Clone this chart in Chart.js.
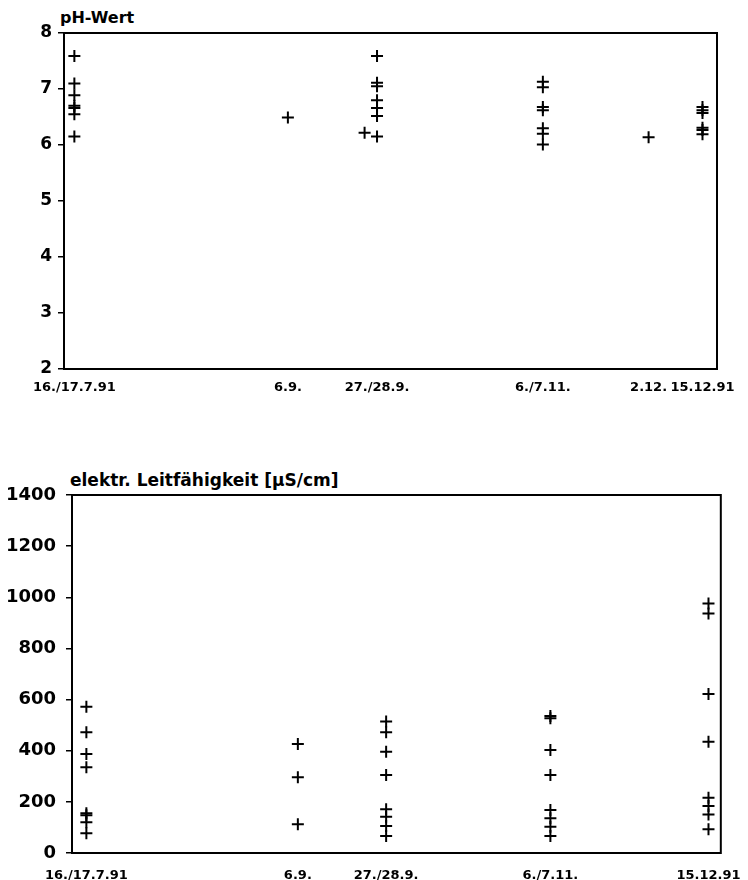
<!DOCTYPE html>
<html>
<head>
<meta charset="utf-8">
<script src="https://cdn.jsdelivr.net/npm/chart.js@4/dist/chart.umd.min.js"></script>
<style>
    body { margin: 0; background: #fff; }
    #wrap { position: relative; width: 748px; height: 880px; }
    #wrap canvas { position: absolute; left: 0; }
    .title { position: absolute; font-family: "DejaVu Sans", sans-serif; font-weight: bold; color: #000; white-space: nowrap; }
</style>
</head>
<body>
<div id="wrap">
    <div class="title" style="left:60px; top:10px; font-size:16px; line-height:16px;">pH-Wert</div>
    <canvas id="phChart" width="748" height="395" style="top:0;"></canvas>
    <div class="title" style="left:70px; top:472px; font-size:17px; line-height:17px;">elektr. Leitfähigkeit [µS/cm]</div>
    <canvas id="ecChart" width="748" height="420" style="top:460px;"></canvas>
</div>
<script>
// Sampling dates as day of year 1991
const dayJul16 = 197.5;   // 16./17.7.91
const daySep6 = 249;      // 6.9.
const daySep27 = 270.5;   // 27./28.9.
const daySep27b = 267.5;  // single value drawn left of the 27./28.9. column
const dayNov6 = 310.5;    // 6./7.11.
const dayDec2 = 336;      // 2.12.
const dayDec15 = 349;     // 15.12.91

const phTickDays = [dayJul16, daySep6, daySep27, dayNov6, dayDec2, dayDec15];
const phTickLabels = ['16./17.7.91', '6.9.', '27./28.9.', '6./7.11.', '2.12.', '15.12.91'];
const ecTickDays = [dayJul16, daySep6, daySep27, dayNov6, dayDec15];
const ecTickLabels = ['16./17.7.91', '6.9.', '27./28.9.', '6./7.11.', '15.12.91'];

// pH values
const phJul16 = [7.59, 7.10, 6.89, 6.70, 6.66, 6.55, 6.15];
const phSep6 = [6.49];
const phSep27 = [7.59, 7.11, 7.05, 6.80, 6.66, 6.52, 6.15];
const phSep27b = [6.22];
const phNov6 = [7.13, 7.03, 6.68, 6.62, 6.30, 6.20, 6.01];
const phDec2 = [6.14];
const phDec15 = [6.68, 6.62, 6.57, 6.31, 6.27, 6.19];

// electrical conductivity [µS/cm]
const ecJul16 = [572, 472, 387, 335, 155, 148, 120, 77];
const ecSep6 = [426, 296, 112];
const ecSep27 = [514, 472, 396, 305, 171, 142, 106, 66];
const ecNov6 = [536, 527, 403, 305, 168, 136, 103, 66];
const ecDec15 = [976, 937, 622, 435, 216, 184, 151, 93];

const tickFont = size => ({ family: '"DejaVu Sans", sans-serif', weight: 'bold', size: size });

function toPoints(day, values) {
    return values.map(v => ({ x: day, y: v }));
}

// draws the closed frame around the plot area
const frame = {
    id: 'frame',
    afterDraw(chart) {
        const { ctx, chartArea: a } = chart;
        ctx.save();
        ctx.strokeStyle = '#000';
        ctx.lineWidth = 2;
        ctx.strokeRect(a.left, a.top, a.right - a.left, a.bottom - a.top);
        ctx.restore();
    }
};

function makeChart(id, points, cfg) {
    return new Chart(document.getElementById(id), {
        type: 'scatter',
        data: {
            datasets: [{
                data: points,
                pointStyle: 'cross',
                pointRadius: 6,
                borderColor: '#000',
                backgroundColor: '#000',
                borderWidth: 2
            }]
        },
        options: {
            responsive: false,
            animation: false,
            layout: { padding: cfg.padding },
            plugins: { legend: { display: false }, tooltip: { enabled: false } },
            scales: {
                x: {
                    type: 'linear',
                    min: cfg.xMin,
                    max: cfg.xMax,
                    afterFit: s => { s.height = cfg.xHeight; },
                    afterBuildTicks: s => { s.ticks = cfg.tickDays.map(v => ({ value: v })); },
                    grid: { display: false },
                    border: { display: true, color: '#000', width: 2 },
                    ticks: {
                        autoSkip: false,
                        maxRotation: 0,
                        padding: cfg.xPad,
                        color: '#000',
                        font: tickFont(13),
                        callback: (v, i) => cfg.tickLabels[i]
                    }
                },
                y: {
                    min: cfg.yMin,
                    max: cfg.yMax,
                    afterFit: s => { s.width = cfg.yWidth; },
                    grid: { drawOnChartArea: false, drawTicks: true, tickLength: 6, color: '#000', lineWidth: 1.5 },
                    border: { display: true, color: '#000', width: 2 },
                    ticks: {
                        stepSize: cfg.step,
                        padding: cfg.yPad,
                        color: '#000',
                        font: tickFont(cfg.yFont),
                        callback: v => String(v)
                    }
                }
            }
        },
        plugins: [frame]
    });
}

const phPoints = [].concat(
    toPoints(dayJul16, phJul16),
    toPoints(daySep6, phSep6),
    toPoints(daySep27, phSep27),
    toPoints(daySep27b, phSep27b),
    toPoints(dayNov6, phNov6),
    toPoints(dayDec2, phDec2),
    toPoints(dayDec15, phDec15)
);

const ecPoints = [].concat(
    toPoints(dayJul16, ecJul16),
    toPoints(daySep6, ecSep6),
    toPoints(daySep27, ecSep27),
    toPoints(dayNov6, ecNov6),
    toPoints(dayDec15, ecDec15)
);

makeChart('phChart', phPoints, {
    padding: { top: 33, right: 31, left: 0, bottom: 0 },
    xMin: 195, xMax: 352.5, xHeight: 26, xPad: 3,
    tickDays: phTickDays, tickLabels: phTickLabels,
    yMin: 2, yMax: 8, step: 1, yWidth: 64, yFont: 17, yPad: 6
});

makeChart('ecChart', ecPoints, {
    padding: { top: 35, right: 23, left: 0, bottom: 0 },
    xMin: 194, xMax: 352, xHeight: 27, xPad: 7,
    tickDays: ecTickDays, tickLabels: ecTickLabels,
    yMin: 0, yMax: 1400, step: 200, yWidth: 72, yFont: 18, yPad: 10
});
</script>
</body>
</html>
